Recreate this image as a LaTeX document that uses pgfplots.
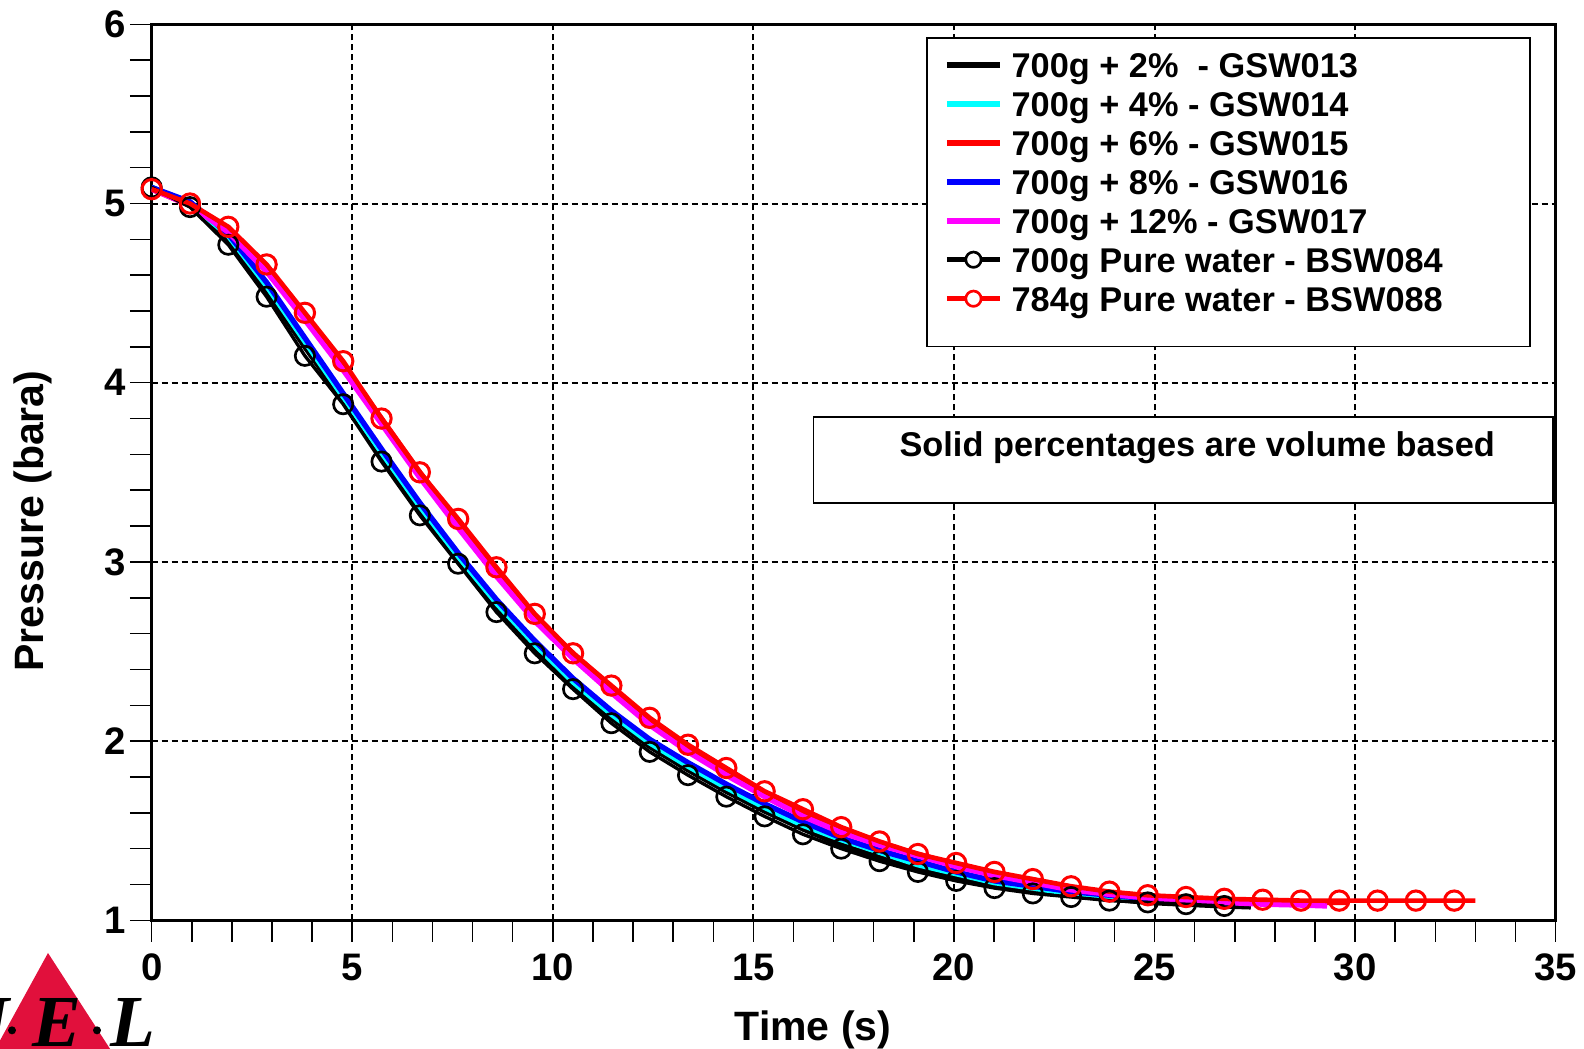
\documentclass[border=0pt]{standalone}
\usepackage{fontspec}
\setmainfont{Liberation Sans}
\newfontfamily\logofont{Liberation Serif}
\usepackage{pgfplots}
\pgfplotsset{compat=1.18}
\definecolor{logored}{RGB}{225,16,60}
\definecolor{mycyan}{RGB}{0,255,255}
\definecolor{mymagenta}{RGB}{255,0,255}
\definecolor{myred}{RGB}{255,0,0}
\definecolor{myblue}{RGB}{0,0,255}
\pgfplotsset{
  blackcircleleg/.style={legend image code/.code={\draw[black, line width=1.4pt] (0pt,0pt) -- (16pt,0pt); \draw[black, line width=0.8pt, fill=white] (8pt,0pt) circle (2.3pt);}},
  redcircleleg/.style={legend image code/.code={\draw[myred, line width=1.4pt] (0pt,0pt) -- (16pt,0pt); \draw[myred, line width=0.8pt, fill=white] (8pt,0pt) circle (2.3pt);}},
}
\begin{document}
\begin{tikzpicture}
\path[use as bounding box] (-45.5pt,-38.6pt) rectangle (429.7pt,276.1pt);
% logo (partly cut by the page edge)
\fill[logored] (-31.1pt,-9.8pt) -- (-6.45pt,-47.9pt) -- (-52pt,-47.9pt) -- cycle;
\node[anchor=north west, inner sep=0pt, font=\logofont\bfseries\itshape\fontsize{22}{24}\selectfont] at (-35.9pt,-23.3pt) {E};
\node[anchor=north west, inner sep=0pt, font=\logofont\bfseries\itshape\fontsize{22}{24}\selectfont] at (-12.5pt,-23.3pt) {L};
\node[anchor=north east, inner sep=0pt, font=\logofont\bfseries\itshape\fontsize{22}{24}\selectfont] at (-42.5pt,-23.3pt) {N};
\fill (-41.9pt,-33.0pt) circle (1.2pt);
\fill (-16.4pt,-33.0pt) circle (1.2pt);
\begin{axis}[
  scale only axis, width=421.2pt, height=268.8pt,
  xmin=0, xmax=35, ymin=1, ymax=6,
  xtick={0,5,...,35}, ytick={1,2,...,6},
  minor x tick num=4, minor y tick num=4,
  xtick pos=bottom, ytick pos=left,
  tick align=outside, major tick length=6.5pt, minor tick length=6.5pt,
  tick style={black, line width=0.45pt},
  grid=major,
  major grid style={black, line width=0.6pt, dash pattern=on 2pt off 1pt},
  axis line style={black, line width=0.9pt},
  /pgf/number format/assume math mode=true,
  tick label style={font=\bfseries\fontsize{11.5}{13}\selectfont},
  yticklabel style={inner xsep=1pt},
  xlabel={Time (s)}, ylabel={Pressure (bara)},
  label style={font=\bfseries\fontsize{12.3}{14}\selectfont, inner sep=0pt},
  xlabel style={at={(axis description cs:0.471,-0.1001)}, anchor=north},
  ylabel style={at={(axis description cs:-0.0986,0.4456)}, anchor=north},
  legend cell align=left,
  legend image code/.code={\draw[#1, line width=1.7pt] (0pt,0pt) -- (16pt,0pt);},
  legend style={at={(axis description cs:0.5643,0.9767)}, anchor=north west,
    draw=none, fill=none, inner sep=0pt, outer sep=0pt, row sep=0pt, column sep=2.6pt,
    font=\bfseries\fontsize{10.3}{12}\selectfont,
    nodes={inner sep=0pt, outer sep=0pt, text height=9.55pt, text depth=2.15pt}},
]
% legend frame
\draw[black, line width=0.5pt, fill=white] (axis description cs:0.552,0.6403) rectangle (axis description cs:0.9815,0.9844);
% 700g + 2% - GSW013
\addplot[black, line width=1.6pt] coordinates {
(0,5.09)(0.955,4.99)(1.91,4.80)(2.865,4.51)(3.82,4.20)(4.775,3.90)(5.73,3.59)(6.685,3.29)(7.64,3.01)(8.595,2.75)(9.55,2.52)(10.505,2.31)(11.46,2.13)(12.415,1.97)(13.37,1.84)(14.325,1.72)(15.28,1.61)(16.235,1.51)(17.19,1.42)(18.145,1.35)(19.1,1.29)(20.055,1.24)(21.01,1.20)(21.965,1.17)(22.92,1.14)(23.875,1.12)(24.83,1.10)(25.785,1.09)(26.74,1.08)(27.4,1.075)};
\addlegendentry{700g + 2\%\ \ - GSW013}
% 700g + 4% - GSW014
\addplot[mycyan, line width=1.6pt] coordinates {
(0,5.09)(0.955,5.00)(1.91,4.82)(2.865,4.54)(3.82,4.23)(4.775,3.92)(5.73,3.61)(6.685,3.31)(7.64,3.03)(8.595,2.77)(9.55,2.54)(10.505,2.33)(11.46,2.15)(12.415,1.99)(13.37,1.86)(14.325,1.74)(15.28,1.63)(16.235,1.53)(17.19,1.45)(18.145,1.38)(19.1,1.31)(20.055,1.26)(21.01,1.21)(21.965,1.18)(22.92,1.15)(23.875,1.13)(24.83,1.115)(25.785,1.105)(26.74,1.10)(27.695,1.095)(28.8,1.09)};
\addlegendentry{700g + 4\% - GSW014}
% 700g + 6% - GSW015
\addplot[myred, line width=1.6pt] coordinates {
(0,5.08)(0.955,4.99)(1.91,4.85)(2.865,4.64)(3.82,4.38)(4.775,4.10)(5.73,3.80)(6.685,3.50)(7.64,3.22)(8.595,2.95)(9.55,2.70)(10.505,2.49)(11.46,2.30)(12.415,2.12)(13.37,1.97)(14.325,1.83)(15.28,1.71)(16.235,1.60)(17.19,1.51)(18.145,1.43)(19.1,1.37)(20.055,1.31)(21.01,1.26)(21.965,1.22)(22.92,1.18)(23.875,1.155)(24.83,1.135)(25.785,1.12)(26.74,1.11)(27.695,1.105)(28.65,1.10)(29.8,1.10)};
\addlegendentry{700g + 6\% - GSW015}
% 700g + 8% - GSW016
\addplot[myblue, line width=1.6pt] coordinates {
(0,5.09)(0.955,5.01)(1.91,4.83)(2.865,4.56)(3.82,4.25)(4.775,3.94)(5.73,3.63)(6.685,3.33)(7.64,3.05)(8.595,2.79)(9.55,2.56)(10.505,2.35)(11.46,2.17)(12.415,2.01)(13.37,1.88)(14.325,1.76)(15.28,1.65)(16.235,1.55)(17.19,1.46)(18.145,1.39)(19.1,1.33)(20.055,1.27)(21.01,1.22)(21.965,1.19)(22.92,1.16)(23.875,1.14)(24.83,1.12)(25.785,1.11)(26.74,1.10)(27.695,1.095)(28.8,1.09)};
\addlegendentry{700g + 8\% - GSW016}
% 700g + 12% - GSW017
\addplot[mymagenta, line width=1.6pt] coordinates {
(0,5.08)(0.955,4.99)(1.91,4.84)(2.865,4.62)(3.82,4.35)(4.775,4.07)(5.73,3.77)(6.685,3.47)(7.64,3.19)(8.595,2.92)(9.55,2.67)(10.505,2.46)(11.46,2.27)(12.415,2.09)(13.37,1.94)(14.325,1.81)(15.28,1.69)(16.235,1.58)(17.19,1.49)(18.145,1.42)(19.1,1.36)(20.055,1.30)(21.01,1.25)(21.965,1.21)(22.92,1.17)(23.875,1.145)(24.83,1.125)(25.785,1.11)(26.74,1.10)(27.695,1.09)(28.65,1.085)(29.3,1.08)};
\addlegendentry{700g + 12\% - GSW017}
% 700g Pure water - BSW084
\addplot[black, line width=1.0pt, mark=o, mark size=2.9pt, mark options={solid, line width=0.8pt}, blackcircleleg] coordinates {
(0,5.09)(0.955,4.98)(1.91,4.77)(2.865,4.48)(3.82,4.15)(4.775,3.88)(5.73,3.56)(6.685,3.26)(7.64,2.99)(8.595,2.72)(9.55,2.49)(10.505,2.29)(11.46,2.10)(12.415,1.94)(13.37,1.81)(14.325,1.69)(15.28,1.58)(16.235,1.48)(17.19,1.40)(18.145,1.33)(19.1,1.27)(20.055,1.22)(21.01,1.18)(21.965,1.15)(22.92,1.13)(23.875,1.11)(24.83,1.10)(25.785,1.09)(26.74,1.08)};
\addlegendentry{700g Pure water - BSW084}
% 784g Pure water - BSW088 : line
\addplot[myred, line width=1.4pt, forget plot] coordinates {
(0,5.08)(0.955,5.00)(1.91,4.87)(2.865,4.66)(3.82,4.39)(4.775,4.12)(5.73,3.80)(6.685,3.50)(7.64,3.24)(8.595,2.97)(9.55,2.71)(10.505,2.49)(11.46,2.31)(12.415,2.13)(13.37,1.98)(14.325,1.85)(15.28,1.72)(16.235,1.62)(17.19,1.52)(18.145,1.44)(19.1,1.37)(20.055,1.32)(21.01,1.27)(21.965,1.23)(22.92,1.19)(23.875,1.16)(24.83,1.14)(25.785,1.13)(26.74,1.12)(27.695,1.115)(28.65,1.11)(29.605,1.11)(30.56,1.11)(31.515,1.11)(32.47,1.11)(33.0,1.11)};
% 784g Pure water - BSW088 : markers
\addplot[myred, only marks, mark=o, mark size=2.9pt, mark options={solid, line width=0.9pt}, redcircleleg] coordinates {
(0,5.08)(0.955,5.00)(1.91,4.87)(2.865,4.66)(3.82,4.39)(4.775,4.12)(5.73,3.80)(6.685,3.50)(7.64,3.24)(8.595,2.97)(9.55,2.71)(10.505,2.49)(11.46,2.31)(12.415,2.13)(13.37,1.98)(14.325,1.85)(15.28,1.72)(16.235,1.62)(17.19,1.52)(18.145,1.44)(19.1,1.37)(20.055,1.32)(21.01,1.27)(21.965,1.23)(22.92,1.19)(23.875,1.16)(24.83,1.14)(25.785,1.13)(26.74,1.12)(27.695,1.115)(28.65,1.11)(29.605,1.11)(30.56,1.11)(31.515,1.11)(32.47,1.11)};
\addlegendentry{784g Pure water - BSW088}
% note box
\draw[black, line width=0.5pt, fill=white] (axis description cs:0.4713,0.4658) rectangle (axis description cs:0.998,0.5614);
\node[anchor=base, inner sep=0pt, font=\bfseries\fontsize{10.3}{12}\selectfont] at (axis description cs:0.7447,0.5171) {Solid percentages are volume based};
\end{axis}
\end{tikzpicture}
\end{document}
